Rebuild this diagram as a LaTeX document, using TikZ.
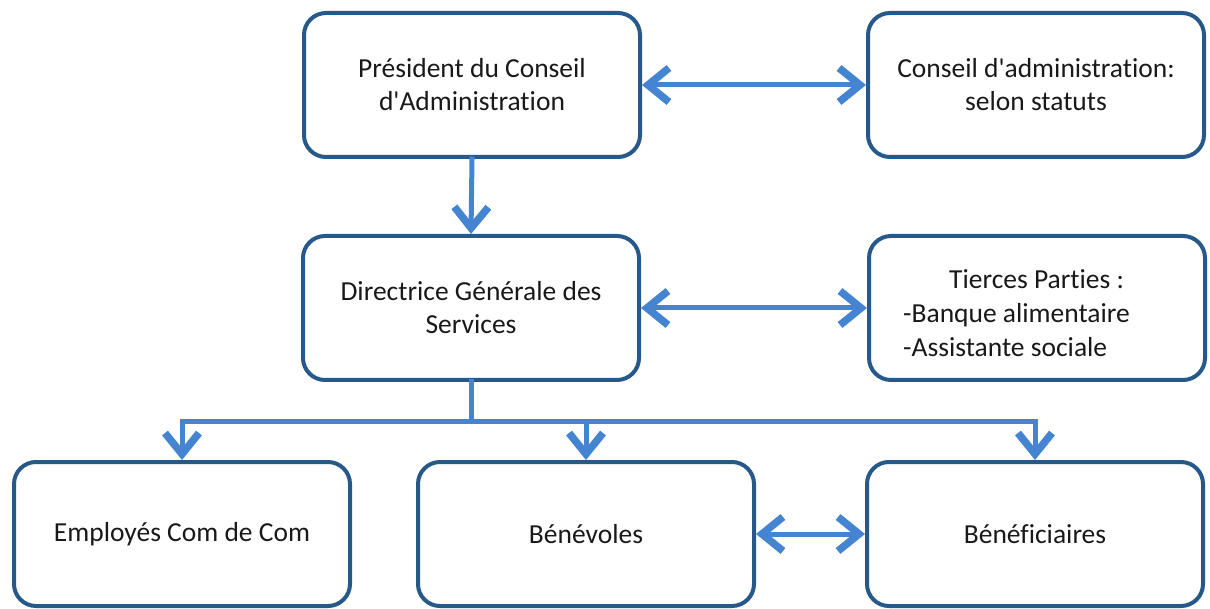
\documentclass[tikz,border=0pt]{standalone}
\usepackage{fontspec}
\setmainfont{Carlito}[Ligatures={NoCommon}]
\usetikzlibrary{arrows.meta}
\definecolor{boxblue}{RGB}{38,88,138}
\definecolor{arrblue}{RGB}{68,132,208}
\definecolor{txt}{RGB}{25,25,25}
\begin{document}
\begin{tikzpicture}[x=1pt,y=-1pt,
  box/.style={draw=boxblue, line width=4pt, rounded corners=22pt, minimum width=336pt, minimum height=144pt, align=center, text=txt, font=\fontsize{27.5}{33}\selectfont, inner sep=0pt},
  lbl/.style={text=txt, font=\fontsize{27.5}{34}\selectfont, inner sep=0pt},
  conn/.style={draw=arrblue, line width=5pt, line cap=rect},
  barb/.tip={Straight Barb[length=21pt,width=34pt,line width=7.5pt]},
  tip/.style={conn, -barb},
  dtip/.style={conn, barb-barb}
]
\useasboundingbox (0,0) rectangle (1210,609);
\fill[white] (0,0) rectangle (1210,609);

\node[box] (pres) at (472,85) {Président du Conseil\\d\textquotesingle Administration};
\node[box] (cons) at (1036,85) {Conseil d\textquotesingle administration:\\selon statuts};
\node[box] (dir) at (471,308) {Directrice Générale des\\Services};
\node[box] (tp) at (1037,308) {};
\node[lbl, anchor=west, align=left] (tptext) at (903,313) {\hspace*{46pt}Tierces Parties :\\-Banque alimentaire\\-Assistante sociale};
\node[box] (emp) at (182,534) {Employés Com de Com};
\node[box] (benev) at (586,534) {Bénévoles};
\node[box] (benef) at (1035,534) {Bénéficiaires};

\coordinate (bus) at (471,421);
\draw[dtip] (pres.east) -- (cons.west);
\draw[tip] (pres.south) -- (dir.north);
\draw[dtip] (dir.east) -- (tp.west);
\draw[conn] (dir.south) -- (bus);
\draw[conn] (emp.north |- bus) -- (benef.north |- bus);
\draw[tip] (emp.north |- bus) -- (emp.north);
\draw[tip] (benev.north |- bus) -- (benev.north);
\draw[tip] (benef.north |- bus) -- (benef.north);
\draw[dtip] (benev.east) -- (benef.west);
\end{tikzpicture}
\end{document}
